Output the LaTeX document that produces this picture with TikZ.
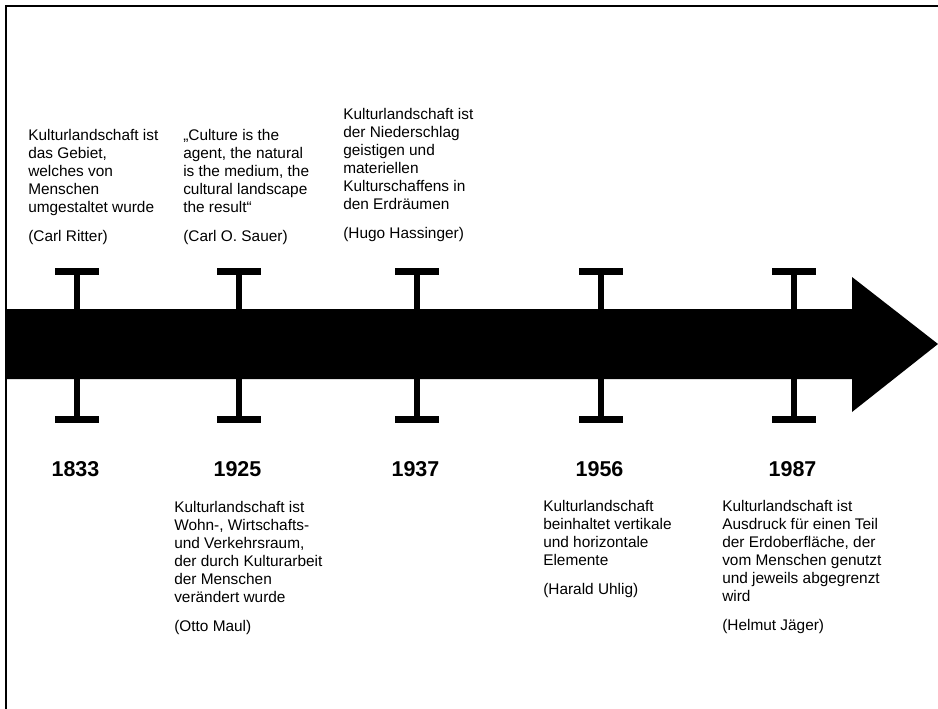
\documentclass[tikz,border=0pt]{standalone}
\usepackage{fontspec}
\setmainfont{Liberation Sans}
\usepackage{tikz}
\usetikzlibrary{positioning}
\tikzset{
  rahmen/.style={line width=1.5pt},
  strahl/.style={fill=black},
  stiel/.style={line width=3.8pt},
  jahr/.style={font=\fontsize{16.1}{19}\selectfont\bfseries,inner sep=0pt},
  zitat/.style={font=\fontsize{11.55}{13.5}\selectfont,align=left,inner sep=0pt,anchor=north west}
}

\begin{document}
\begin{tikzpicture}[x=0.75pt,y=-0.75pt]
\useasboundingbox (0,0) rectangle (938,709);
% rahmen
\draw[rahmen] (6,709) -- (6,6) -- (938,6);
% zeitstrahl
\fill[strahl] (6,309) -- (852,309) -- (852,277) -- (938,344) -- (852,412) -- (852,379) -- (6,379) -- cycle;
\foreach \x/\j in {77/1833,239/1925,417/1937,601/1956,794/1987}{
  \draw[stiel] (\x,272) -- (\x,309); \draw[stiel] (\x,379) -- (\x,420);
  \fill (\x-22,268) rectangle (\x+22,275); \fill (\x-22,416) rectangle (\x+22,423);
  \node[jahr,anchor=base] (j\j) at (\x-1.5,476) {\j};
}
% oben
\node[zitat] (z1833) at (28,129) {Kulturlandschaft ist\\das Gebiet,\\welches von\\Menschen\\umgestaltet wurde\\[8.6pt](Carl Ritter)};
\node[zitat] (z1925) at (183,129) {„Culture is the\\agent, the natural\\is the medium, the\\cultural landscape\\the result“\\[8.6pt](Carl O. Sauer)};
\node[zitat] (z1937) at (343,108) {Kulturlandschaft ist\\der Niederschlag\\geistigen und\\materiellen\\Kulturschaffens in\\den Erdräumen\\[8.6pt](Hugo Hassinger)};
% unten
\node[zitat] (u1925) at (174,501) {Kulturlandschaft ist\\Wohn-, Wirtschafts-\\und Verkehrsraum,\\der durch Kulturarbeit\\der Menschen\\verändert wurde\\[8.6pt](Otto Maul)};
\node[zitat] (u1956) at (543,500) {Kulturlandschaft\\beinhaltet vertikale\\und horizontale\\Elemente\\[8.6pt](Harald Uhlig)};
\node[zitat] (u1987) at (722,500) {Kulturlandschaft ist\\Ausdruck für einen Teil\\der Erdoberfläche, der\\vom Menschen genutzt\\und jeweils abgegrenzt\\wird\\[8.6pt](Helmut Jäger)};
\end{tikzpicture}
\end{document}
